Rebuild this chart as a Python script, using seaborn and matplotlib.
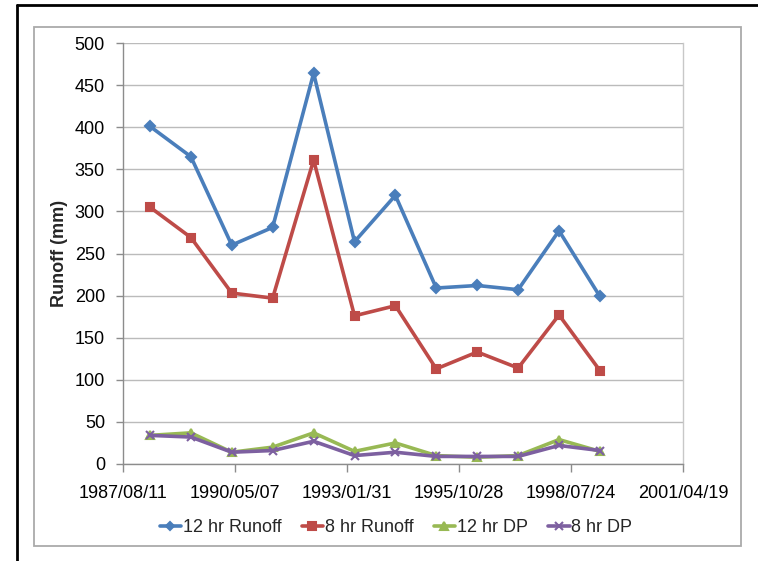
import matplotlib
matplotlib.use("Agg")
import matplotlib.pyplot as plt
from matplotlib.lines import Line2D
import pandas as pd
import seaborn as sns

# Yearly event dates
dates = ["1988-04-08", "1989-04-08", "1990-04-08", "1991-04-08", "1992-04-08",
         "1993-04-08", "1994-04-08", "1995-04-08", "1996-04-08", "1997-04-08",
         "1998-04-08", "1999-04-08"]

# Runoff / deep percolation (mm)
runoff_12hr = [401, 365, 260, 281, 464, 264, 319, 209, 212, 207, 277, 199]
runoff_8hr = [305, 269, 203, 197, 361, 176, 188, 113, 133, 114, 177, 111]
dp_12hr = [34, 37, 14, 20, 37, 15, 25, 10, 8, 10, 29, 15]
dp_8hr = [34, 32, 14, 16, 27, 10, 14, 9, 9, 9, 22, 16]

series_names = ["12 hr Runoff", "8 hr Runoff", "12 hr DP", "8 hr DP"]
x_ticks = ["1987/08/11", "1990/05/07", "1993/01/31", "1995/10/28",
           "1998/07/24", "2001/04/19"]
y_ticks = [0, 50, 100, 150, 200, 250, 300, 350, 400, 450, 500]

colors = {"12 hr Runoff": "#4A7EBB", "8 hr Runoff": "#BE4B48",
          "12 hr DP": "#98B954", "8 hr DP": "#7D60A0"}
markers = {"12 hr Runoff": "D", "8 hr Runoff": "s",
           "12 hr DP": "^", "8 hr DP": "x"}
msizes = {"12 hr Runoff": 5.0, "8 hr Runoff": 6.0,
          "12 hr DP": 6.0, "8 hr DP": 6.0}

frames = []
for name, vals in zip(series_names, [runoff_12hr, runoff_8hr, dp_12hr, dp_8hr]):
    frames.append(pd.DataFrame({"date": pd.to_datetime(dates),
                                "value": vals, "series": name}))
df = pd.concat(frames, ignore_index=True)

sns.set_theme(style="white")
plt.rcParams["font.family"] = ["Liberation Sans", "DejaVu Sans"]

fig = plt.figure(figsize=(7.58, 5.61), dpi=100)
ax = fig.add_axes([123 / 758, 1 - 464 / 561, (683 - 123) / 758, (464 - 43) / 561])

for name in series_names:
    sub = df[df["series"] == name]
    sns.lineplot(data=sub, x="date", y="value", ax=ax, color=colors[name],
                 marker=markers[name], markersize=msizes[name],
                 markeredgecolor=colors[name], markeredgewidth=1.5,
                 linewidth=2.6, legend=False)

# Axes ranges and ticks
tick_dates = pd.to_datetime(x_ticks, format="%Y/%m/%d")
ax.set_xlim(tick_dates[0], tick_dates[-1])
ax.set_xticks(tick_dates)
ax.set_xticklabels(x_ticks)
ax.set_ylim(0, 500)
ax.set_yticks(y_ticks)
ax.set_yticklabels([str(v) for v in y_ticks])

ax.grid(axis="y", color="#BBBBBB", linewidth=1.0)
ax.grid(axis="x", visible=False)
ax.set_axisbelow(True)

for side in ["left", "bottom"]:
    ax.spines[side].set_color("#8C8C8C")
    ax.spines[side].set_linewidth(1.0)
ax.spines["top"].set_visible(False)
ax.spines["right"].set_color("#C8C8C8")
ax.spines["right"].set_linewidth(1.0)

ax.tick_params(axis="both", which="major", labelsize=13, colors="#8C8C8C",
               labelcolor="black", direction="out", length=5, width=1.0)
ax.tick_params(axis="x", pad=9, length=6, bottom=True)
ax.tick_params(axis="y", pad=8, left=True)

ax.set_xlabel("")
ax.set_ylabel("Runoff (mm)", fontsize=13, fontweight="bold", labelpad=5)

# Legend below the plot
handles = [Line2D([0], [0], color=colors[n], marker=markers[n], markersize=msizes[n] - 0.5,
                  markeredgecolor=colors[n], markeredgewidth=1.5, linewidth=2.6)
           for n in series_names]
fig.legend(handles, series_names, loc="center", bbox_to_anchor=(396 / 758, 1 - 528 / 561),
           ncol=4, frameon=False, fontsize=13, handlelength=1.2, handletextpad=0.1,
           columnspacing=1.1)

# Chart frames
fig.add_artist(plt.Rectangle((34 / 758, 1 - 546 / 561), (741 - 34) / 758, (546 - 27) / 561,
                             transform=fig.transFigure, fill=False,
                             edgecolor="#AAAAAA", linewidth=1.3))
fig.add_artist(Line2D([17 / 758, 17 / 758], [0, 1 - 4.5 / 561], transform=fig.transFigure,
                      color="black", linewidth=2.0))
fig.add_artist(Line2D([17 / 758, 1.0], [1 - 4.5 / 561, 1 - 4.5 / 561],
                      transform=fig.transFigure, color="black", linewidth=2.0))

fig.savefig("out.png", dpi=100)
